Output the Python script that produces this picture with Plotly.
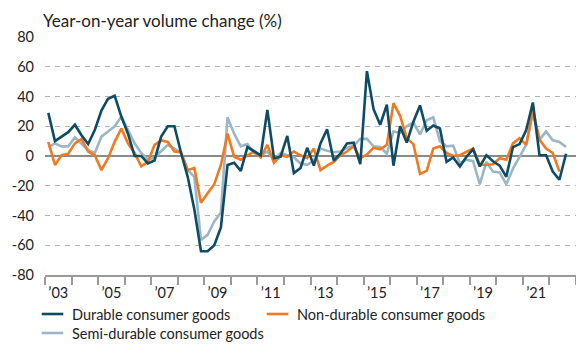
import plotly.graph_objects as go

# Quarterly series, 2003 Q1 onwards (year-on-year volume change, %)
start_year = 2003

durable = [
    29, 10, 13, 16, 21, 14, 8, 17.5, 30.5, 38.5,
    40.5, 26.5, 15, 0, 0, -5, -3, 13, 20, 20,
    2, -14, -36, -64, -64, -60, -48, -6, -4.5, -10,
    6, 3, 0.5, 31, -1.5, -0.5, 13.5, -11.5, -8, 5.5,
    -6.5, 8.5, 18, -3, 1.5, 8.5, 9, -5.5, 57, 31.5,
    21, 34.5, -6.5, 20, 9, 23, 34, 17, 20.5, 18.5,
    -4, -1, -7, -0.5, 4.5, -7, 0.5, -3.5, -6.5, -14,
    6, 8, 17.5, 36, 0.5, 0.5, -10.5, -16, 1.5,
]

non_durable = [
    9.5, -6, 0.5, 1.5, 8.5, 11.5, 3, 0.5, -9.5, -1.5,
    9.5, 18.5, 8.5, 2, -7, -4, 7.5, 10.5, 9.5, 3,
    2.5, -9.5, -8, -31.5, -25, -19, -6, 15, -0.5, -2.5,
    0.5, 3, -1, 7.5, -4.5, 0.5, -0.5, 3, 0.5, -1.5,
    5, -9.5, -6.5, -4, 0.5, 3, 6.5, -1.5, 1, 5.5,
    4.5, 7.5, 35.5, 27, 12, 8, -12, -10, 5, 6.5,
    2, 0, 0.5, 2.5, 5, -5.5, -6, -5.5, -1.5, -2.5,
    8.5, 12, 7.5, 31, 11, 5, 2, -10.5,
]

semi_durable = [
    6, 8.5, 6.5, 6.5, 12.5, 8.5, 4, 2, 13, 16.5,
    20, 26.5, 17.5, 8.5, 2, -2.5, -1, 3, 7.5, 5,
    2, -9.5, -14, -56.5, -53, -44, -38, 26, 15, 6.5,
    8, 2, 0.5, 3, -2.5, 2, 0.5, -1, -5, -6,
    -3, 5, 3.5, 2.5, 3, 5.5, 7, 11.5, 11.5, 6.5,
    6, 1.5, 16.5, 15.5, 20, 22.5, 14.5, 24, 26, 10,
    6.5, 7, -5, -2.5, -3.5, -19, -4, -10.5, -11, -19,
    -8.5, -0.5, 7.5, 28.5, 11, 16.5, 10.5, 9.5, 6,
]

tick_years = list(range(2003, 2022, 2))
tick_labels = ["\u2019" + str(y)[2:] for y in tick_years]
y_ticks = list(range(-80, 81, 20))
y_tick_labels = [str(v) for v in y_ticks]

# figure geometry (pixels)
W, H = 576, 345
M_L, M_R, M_T, M_B = 45, 0, 37, 70
PLOT_W = W - M_L - M_R
PLOT_H = H - M_T - M_B


def px_x(px):
    return (px - M_L) / PLOT_W


def px_y(py):
    return (H - M_B - py) / PLOT_H


def quarter_positions(n):
    # place each quarter at its mid-point on a continuous year axis
    return [start_year + (k // 4) + ((k % 4) + 0.5) / 4 for k in range(n)]


colors = {
    "Durable consumer goods": "#0e4c64",
    "Non-durable consumer goods": "#f07a22",
    "Semi-durable consumer goods": "#9bb6c6",
}

# drawn back to front so the durable series sits on top
series = [
    ("Semi-durable consumer goods", semi_durable),
    ("Non-durable consumer goods", non_durable),
    ("Durable consumer goods", durable),
]

fig = go.Figure()
for name, values in series:
    fig.add_trace(go.Scatter(
        x=quarter_positions(len(values)),
        y=values,
        mode="lines",
        name=name,
        line=dict(color=colors[name], width=2.6),
        showlegend=False,
    ))

font_family = "Lato"
text_color = "#222222"
axis_grey = "#9a9a9a"

# legend drawn as short line keys with text labels, two columns
legend_items = [
    ("Durable consumer goods", 41.7, 314),
    ("Non-durable consumer goods", 266.7, 314),
    ("Semi-durable consumer goods", 41.7, 333),
]
shapes = []
annotations = [
    dict(
        text="Year-on-year volume change (%)",
        xref="paper", yref="paper",
        x=px_x(41), y=px_y(20),
        xanchor="left", yanchor="middle",
        showarrow=False,
        font=dict(size=17, color=text_color),
    )
]
for name, lx, ly in legend_items:
    shapes.append(dict(
        type="line", xref="paper", yref="paper",
        x0=px_x(lx), x1=px_x(lx + 21.6), y0=px_y(ly), y1=px_y(ly),
        line=dict(color=colors[name], width=2.6),
    ))
    annotations.append(dict(
        text=name,
        xref="paper", yref="paper",
        x=px_x(lx + 28.5), y=px_y(ly),
        xanchor="left", yanchor="middle",
        showarrow=False,
        font=dict(size=14.5, color=text_color),
    ))

fig.update_layout(
    width=W,
    height=H,
    margin=dict(l=M_L, r=M_R, t=M_T, b=M_B),
    paper_bgcolor="white",
    plot_bgcolor="white",
    font=dict(family=font_family, size=14, color=text_color),
    showlegend=False,
    shapes=shapes,
    annotations=annotations,
)

fig.update_xaxes(
    range=[2003, 2023],
    tickmode="array",
    tickvals=[y + 0.5 for y in tick_years],
    ticktext=tick_labels,
    ticks="",
    showline=True,
    linecolor=axis_grey,
    linewidth=1.5,
    showgrid=False,
    zeroline=False,
    ticklabelstandoff=4,
    tickfont=dict(size=14.5),
    minor=dict(
        tickmode="array",
        tickvals=list(range(2003, 2024)),
        ticks="outside",
        ticklen=8,
        tickwidth=1.5,
        tickcolor=axis_grey,
        showgrid=False,
    ),
)

fig.update_yaxes(
    range=[-80, 80],
    tickmode="array",
    tickvals=y_ticks,
    ticktext=y_tick_labels,
    ticks="",
    showline=False,
    showgrid=True,
    gridcolor="#b4b4b4",
    gridwidth=1,
    griddash="5px,5px",
    zeroline=True,
    zerolinecolor="#8a8a8a",
    zerolinewidth=1.5,
    ticklabelstandoff=10,
    tickfont=dict(size=14.5),
)

fig.write_html("out.html")
